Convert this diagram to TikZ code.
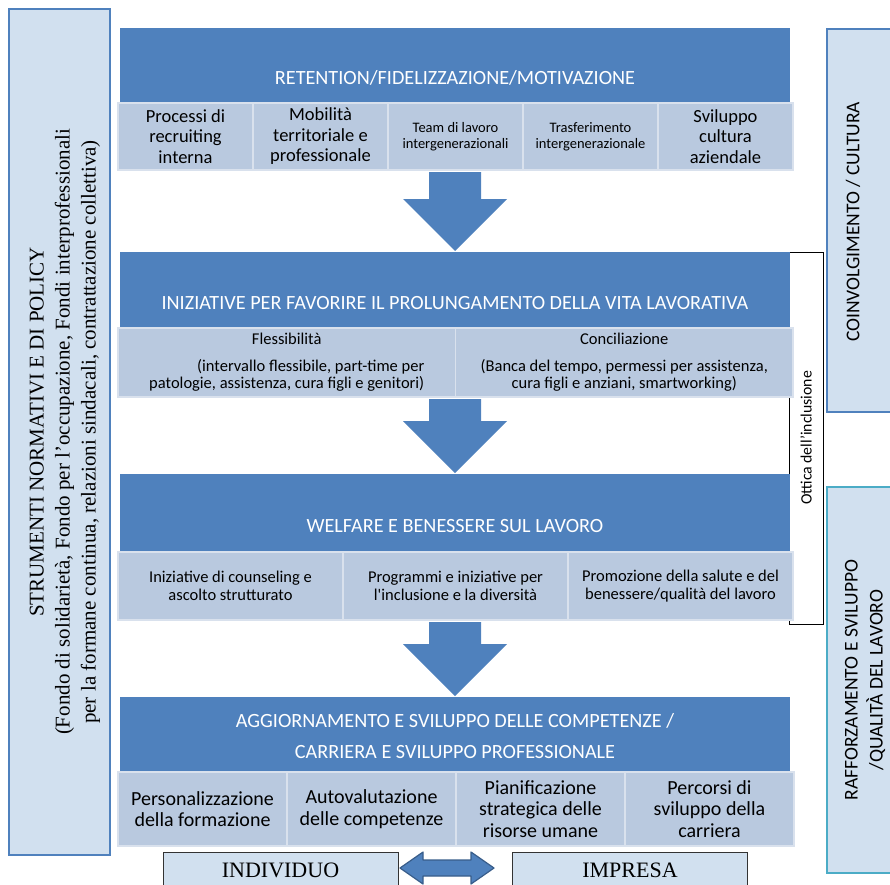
\documentclass[tikz,border=0pt]{standalone}
\usepackage{fontspec}
\setmainfont{Carlito}
\newfontfamily\timesf{Liberation Serif}
\usepackage{tikz}
\usetikzlibrary{calc,positioning}
\definecolor{hblue}{HTML}{4F81BD}
\definecolor{cellb}{HTML}{B9C9DF}
\definecolor{pale}{HTML}{D1E0EF}
\definecolor{tealb}{HTML}{4BACC6}
\definecolor{darkb}{HTML}{385D8A}
\tikzset{
  head/.style={fill=hblue, minimum width=670pt, minimum height=76pt, inner sep=0pt, outer sep=0pt},
  htxt/.style={text=white, font=\fontsize{20.2}{31}\selectfont, align=center, inner sep=0pt},
  cell/.style={fill=cellb, draw=white!45!cellb, line width=1.6pt, inner sep=1pt, outer sep=0pt, align=center},
  fbig/.style={font=\fontsize{18.5}{20.5}\selectfont},
  fsmall/.style={font=\fontsize{14.5}{16}\selectfont},
  fmid/.style={font=\fontsize{16.5}{17}\selectfont},
  fwel/.style={font=\fontsize{16.5}{18}\selectfont},
  fcar/.style={font=\fontsize{20}{21.5}\selectfont},
  row1/.style={cell, fbig, minimum width=135pt, minimum height=67pt},
  row2/.style={cell, fmid, minimum width=337.5pt, minimum height=69pt},
  row3/.style={cell, fwel, minimum width=225pt, minimum height=68pt},
  row4/.style={cell, fcar, minimum width=169pt, minimum height=74pt},
  side/.style={fill=pale, draw=hblue, line width=1.4pt},
  vtxt/.style={rotate=90, align=center, inner sep=0pt},
  who/.style={fill=pale, draw=black!80, line width=0.9pt, minimum width=235pt, minimum height=36pt,
    font=\timesf\fontsize{22}{24}\selectfont},
  down/.style={fill=hblue},
}

\begin{document}
\begin{tikzpicture}[x=1pt,y=-1pt]
  \useasboundingbox (0,0) rectangle (890,884);
  \clip (0,0) rectangle (890,884);
  % side panels
  \node[side, line width=2.6pt, minimum width=101pt, minimum height=846pt] (pol) at (59.5,432) {};
  \node[vtxt, font=\timesf\fontsize{21}{26}\selectfont] (poltxt) at (65,432)
    {STRUMENTI NORMATIVI E DI POLICY\\(Fondo di solidarietà, Fondo per l’occupazione, Fondi interprofessionali\\per la formane continua, relazioni sindacali, contrattazione collettiva)};
  \node[side, minimum width=80pt, minimum height=383pt] (coinv) at (867,220.5) {};
  \node[vtxt, font=\fontsize{19.5}{21}\selectfont] (coinvtxt) at (853,222) {COINVOLGIMENTO / CULTURA};
  \node[side, draw=tealb, minimum width=80pt, minimum height=386pt] (raff) at (867,680) {};
  \node[vtxt, font=\fontsize{19.5}{25}\selectfont] (rafftxt) at (865,680) {RAFFORZAMENTO E SVILUPPO\\/QUALITÀ DEL LAVORO};
  \node[vtxt, fill=white, draw=black, line width=0.8pt, minimum width=372pt, minimum height=34pt,
    font=\fontsize{15.8}{17}\selectfont] (ottica) at (806,438) {Ottica dell’inclusione};

  % blocks
  \node[head] (h1) at (455,65.5) {};
  \node[htxt] (t1) at ($(h1.center)+(0,12.5)$) {RETENTION/FIDELIZZAZIONE/MOTIVAZIONE};
  \node[head] (h2) at (455,290) {};
  \node[htxt] (t2) at ($(h2.center)+(0,13)$) {INIZIATIVE PER FAVORIRE IL PROLUNGAMENTO DELLA VITA LAVORATIVA};
  \node[head, minimum height=78pt] (h3) at (455,513) {};
  \node[htxt] (t3) at ($(h3.center)+(0,13)$) {WELFARE E BENESSERE SUL LAVORO};
  \node[head] (h4) at (455,734.5) {};
  \node[htxt] (t4) at ($(h4.center)+(0,2)$) {AGGIORNAMENTO E SVILUPPO DELLE COMPETENZE /\\CARRIERA E SVILUPPO PROFESSIONALE};

  \node[row1] (c11) at (185.5,136.5) {Processi di\\recruiting\\interna};
  \node[row1, right=0pt of c11] (c12) {Mobilità\\territoriale e\\professionale};
  \node[row1, fsmall, right=0pt of c12] (c13) {Team di lavoro\\intergenerazionali};
  \node[row1, fsmall, right=0pt of c13] (c14) {Trasferimento\\intergenerazionale};
  \node[row1, right=0pt of c14] (c15) {Sviluppo\\cultura\\aziendale};

  \node[row2] (c21) at (286.75,362.5) {Flessibilità\\[10pt]\hspace*{48pt}(intervallo flessibile, part-time per\\patologie, assistenza, cura figli e genitori)};
  \node[row2, right=0pt of c21] (c22) {Conciliazione\\[10pt](Banca del tempo, permessi per assistenza,\\cura figli e anziani, smartworking)};

  \node[row3] (c31) at (230.5,586) {Iniziative di counseling e\\ascolto strutturato};
  \node[row3, right=0pt of c31] (c32) {Programmi e iniziative per\\l\textquotesingle inclusione e la diversità};
  \node[row3, right=0pt of c32] (c33) {Promozione della salute e del\\benessere/qualità del lavoro};

  \node[row4] (c41) at (202.5,809) {Personalizzazione\\della formazione};
  \node[row4, right=0pt of c41] (c42) {Autovalutazione\\delle competenze};
  \node[row4, right=0pt of c42] (c43) {Pianificazione\\strategica delle\\risorse umane};
  \node[row4, right=0pt of c43] (c44) {Percorsi di\\sviluppo della\\carriera};

  % block arrows between the steps
  \foreach \ya/\yb in {172/251, 399/473, 622/696}
    \fill[down] (429,\ya) -- (481,\ya) -- (481,\yb-52) -- (507,\yb-52) -- (455,\yb)
      -- (403,\yb-52) -- (429,\yb-52) -- cycle;

  % individuo / impresa
  \node[who] (ind) at (280.5,870) {INDIVIDUO};
  \node[who] (imp) at (630,870) {IMPRESA};
  \draw[fill=hblue, draw=darkb, line width=1.2pt, line join=round]
    (400,868) -- (423,852) -- (423,860) -- (471,860) -- (471,852) -- (494,868)
    -- (471,884) -- (471,876) -- (423,876) -- (423,884) -- cycle;
\end{tikzpicture}
\end{document}
